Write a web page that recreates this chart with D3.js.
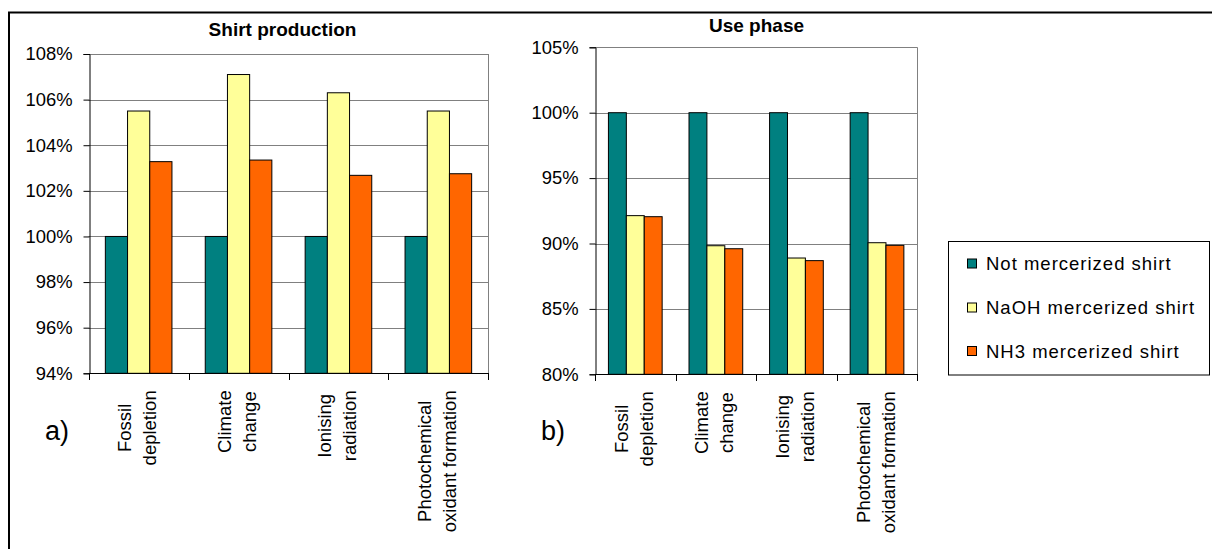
<!DOCTYPE html>
<html><head><meta charset="utf-8">
<script src="https://cdn.jsdelivr.net/npm/d3@7"></script>
<style>
html,body{margin:0;padding:0;background:#fff;}
svg{display:block;font-family:"Liberation Sans",Arial,sans-serif;}
</style></head>
<body>
<svg id="c" width="1212" height="549"></svg>
<script>
// ---- data ----
const categories = ["Fossil depletion","Climate change","Ionising radiation","Photochemical oxidant formation"];
const categoryLines = [["Fossil","depletion"],["Climate","change"],["Ionising","radiation"],["Photochemical","oxidant formation"]];
const seriesNames = ["Not mercerized shirt","NaOH mercerized shirt","NH3 mercerized shirt"];
const seriesColors = ["#008080","#FFFF99","#FF6600"];

const productionNot  = [100, 100, 100, 100];
const productionNaOH = [105.5, 107.1, 106.3, 105.5];
const productionNH3  = [103.28, 103.35, 102.68, 102.75];

const useNot  = [100, 100, 100, 100];
const useNaOH = [92.13, 89.83, 88.89, 90.06];
const useNH3  = [92.05, 89.6, 88.69, 89.86];

const productionTicks = [94, 96, 98, 100, 102, 104, 106, 108];
const useTicks = [80, 85, 90, 95, 100, 105];

// ---- drawing ----
const svg = d3.select("#c");

// outer frame
svg.append("path").attr("d","M9,549 L9,12.5 L1212,12.5")
  .attr("fill","none").attr("stroke","#000").attr("stroke-width",2);

function drawChart(cfg){
  const g = svg.append("g");
  const x = d3.scaleBand().domain(categories).range([cfg.x0, cfg.x1]).paddingInner(0).paddingOuter(0);
  const xs = d3.scaleBand().domain(seriesNames).range([0, x.bandwidth()]).paddingInner(0).paddingOuter(0.75);
  const y = d3.scaleLinear().domain([cfg.ticks[0], cfg.ticks[cfg.ticks.length-1]]).range([cfg.yBottom, cfg.yTop]);

  // gridlines
  g.append("g").selectAll("line").data(cfg.ticks.slice(1)).join("line")
    .attr("x1", cfg.x0).attr("x2", cfg.x1)
    .attr("y1", d => Math.round(y(d))+0.5).attr("y2", d => Math.round(y(d))+0.5)
    .attr("stroke","#808080").attr("stroke-width",1);
  // right border
  g.append("line").attr("x1", Math.round(cfg.x1)+0.5).attr("x2", Math.round(cfg.x1)+0.5)
    .attr("y1", y(cfg.ticks[cfg.ticks.length-1])).attr("y2", cfg.yBottom)
    .attr("stroke","#808080");

  // bars
  const data = [];
  categories.forEach((c,i)=>{
    cfg.series.forEach((arr,si)=>{
      data.push({c, s: seriesNames[si], v: arr[i], color: seriesColors[si]});
    });
  });
  g.append("g").selectAll("rect").data(data).join("rect")
    .attr("x", d => x(d.c) + xs(d.s))
    .attr("width", xs.bandwidth())
    .attr("y", d => y(d.v))
    .attr("height", d => y(cfg.ticks[0]) - y(d.v))
    .attr("fill", d => d.color)
    .attr("stroke","#000").attr("stroke-width",1);

  // y axis
  const yAxis = d3.axisLeft(y).tickValues(cfg.ticks).tickSize(6).tickPadding(11)
    .tickFormat(d => d + "%");
  const ya = g.append("g").attr("transform", `translate(${Math.round(cfg.x0)+0.5},0)`).call(yAxis);
  ya.select(".domain").attr("stroke","#000");
  ya.selectAll(".tick line").attr("stroke","#000");
  ya.selectAll("text").attr("font-size","18.4px").attr("fill","#000")
    .attr("font-family","'Liberation Sans',Arial,sans-serif");

  // x axis
  const xTicks = categories.map(c => x(c)).concat([cfg.x1]);
  const xg = g.append("g");
  xg.append("line").attr("x1", cfg.x0).attr("x2", cfg.x1)
    .attr("y1", Math.round(cfg.yBottom)+0.5).attr("y2", Math.round(cfg.yBottom)+0.5)
    .attr("stroke","#000");
  xg.selectAll("line.t").data(xTicks).join("line").attr("class","t")
    .attr("x1", d => Math.round(d)+0.5).attr("x2", d => Math.round(d)+0.5)
    .attr("y1", Math.round(cfg.yBottom)).attr("y2", Math.round(cfg.yBottom)+7)
    .attr("stroke","#000");

  // category labels (rotated)
  categories.forEach((c,i)=>{
    const cx = x(c) + x.bandwidth()/2;
    const lg = g.append("g").attr("transform", `translate(${cx},${cfg.yBottom+17}) rotate(-90)`);
    const lines = categoryLines[i];
    const texts = lines.map((t,li)=> lg.append("text").text(t)
      .attr("font-size","18.5px").attr("fill","#000")
      .attr("text-anchor","middle")
      .attr("y", li===0 ? -7.5 : 17.5));
    const maxW = d3.max(texts, t => t.node().getComputedTextLength());
    texts.forEach(t => t.attr("x", -maxW/2));
  });

  // title
  svg.append("text").text(cfg.title).attr("x", cfg.titleX).attr("y", cfg.titleY)
    .attr("text-anchor","middle").attr("font-weight","bold").attr("font-size","19px");
  // panel letter
  svg.append("text").text(cfg.letter).attr("x", cfg.letterX).attr("y", 440)
    .attr("font-size","27px");
}

drawChart({x0: 88.7, x1: 488.3, yTop: 54, yBottom: 373.3, ticks: productionTicks,
  series: [productionNot, productionNaOH, productionNH3],
  title: "Shirt production", titleX: 282.5, titleY: 35.5, letter: "a)", letterX: 45});
drawChart({x0: 595, x1: 917.3, yTop: 47.3, yBottom: 374.3, ticks: useTicks,
  series: [useNot, useNaOH, useNH3],
  title: "Use phase", titleX: 756.5, titleY: 32, letter: "b)", letterX: 541});

// legend
const leg = svg.append("g");
leg.append("rect").attr("x", 948.5).attr("y", 241.5).attr("width", 261).attr("height", 133.5)
  .attr("fill","#fff").attr("stroke","#000").attr("stroke-width",1);
const rowY = [263.5, 307.5, 351];
seriesNames.forEach((s,i)=>{
  leg.append("rect").attr("x", 967.5).attr("y", rowY[i]-4.5).attr("width", 9).attr("height", 9)
    .attr("fill", seriesColors[i]).attr("stroke","#000");
  leg.append("text").text(s).attr("x", 986).attr("y", rowY[i]+6.5)
    .attr("font-size","18.5px").attr("letter-spacing","1px");
});
</script>
</body></html>
